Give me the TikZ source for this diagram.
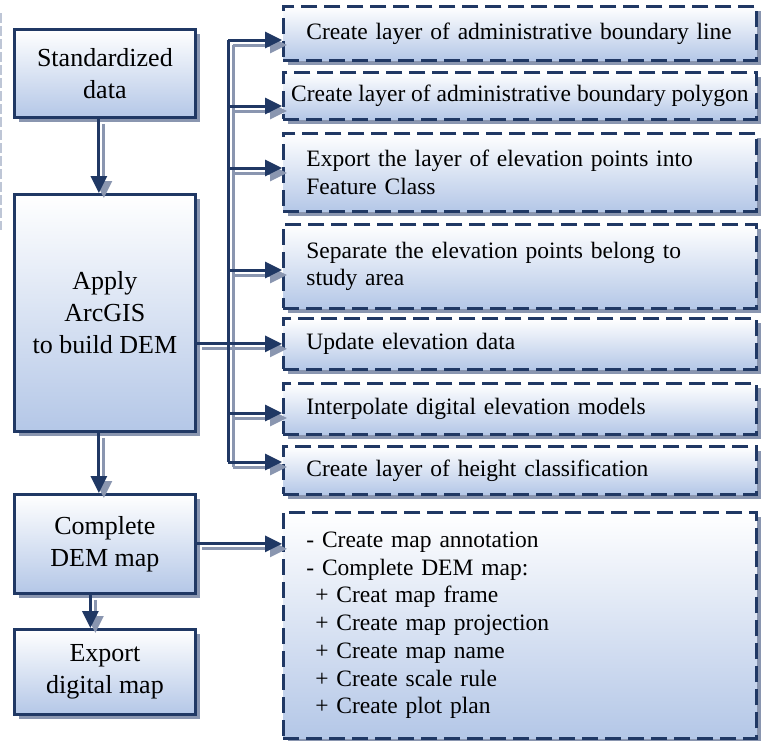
\documentclass[tikz,border=0pt]{standalone}
\usepackage{fontspec}
\setmainfont{Liberation Serif}
\usetikzlibrary{shadows,arrows.meta,calc}
\definecolor{navy}{RGB}{32,56,100}
\definecolor{boxblue}{RGB}{180,199,231}
\definecolor{shadowc}{RGB}{138,150,176}
\definecolor{faintc}{RGB}{190,198,214}
\newcommand\allcons[1]{%
  \draw[#1,-{Triangle[length=17pt,width=16pt]}] ([xshift=-6pt]sd.south) -- ([xshift=-6pt]arc.north);
  \draw[#1,-{Triangle[length=17pt,width=16pt]}] ([xshift=-6pt]arc.south) -- ([xshift=-6pt]cdm.north);
  \draw[#1,-{Triangle[length=17pt,width=16pt]}] ([xshift=-14.5pt]cdm.south) -- ([xshift=-14.5pt]ex.north);
  \draw[#1] (j1) -- (j7);
  \draw[#1,-{Triangle[length=17pt,width=16pt]}] (arc.east |- r5.west) -- (r5.west);
  \draw[#1,-{Triangle[length=17pt,width=16pt]}] (j1) -- (j1 -| r1.west);
  \draw[#1,-{Triangle[length=17pt,width=16pt]}] (j2) -- (j2 -| r2.west);
  \draw[#1,-{Triangle[length=17pt,width=16pt]}] (j3) -- (j3 -| r3.west);
  \draw[#1,-{Triangle[length=17pt,width=16pt]}] (j4) -- (j4 -| r4.west);
  \draw[#1,-{Triangle[length=17pt,width=16pt]}] (j6) -- (j6 -| r6.west);
  \draw[#1,-{Triangle[length=17pt,width=16pt]}] (j7) -- (j7 -| r7.west);
  \draw[#1,-{Triangle[length=17pt,width=16pt]}] (cdm.east) -- (cdm.east -| r8.west);
}
\begin{document}
\begin{tikzpicture}[x=1pt,y=-1pt,
  boxshadow/.style={drop shadow={shadow xshift=5pt,shadow yshift=-5pt,fill=shadowc,opacity=1}},
  lbox/.style={draw=navy,line width=2.8pt,top color=white,bottom color=boxblue,boxshadow,
    minimum width=181pt,align=center,font=\fontsize{26}{32}\selectfont,inner sep=0pt,anchor=north west},
  rbox/.style={draw=navy,line width=2.8pt,dash pattern=on 16pt off 7pt,top color=white,bottom color=boxblue,boxshadow,
    minimum width=473pt,anchor=north west,font=\fontsize{23.5}{27.7}\selectfont,inner xsep=23pt,inner ysep=0pt},
  lefttext/.style={text width=427pt,align=left},
  shad/.style={draw=shadowc,line width=3pt,transform canvas={shift={(5pt,-5pt)}}},
  con/.style={draw=navy,line width=3pt}
]
\useasboundingbox (0,0) rectangle (766,740);
\fill[white] (0,0) rectangle (766,740);
\draw[faintc,line width=1.5pt,dash pattern=on 10pt off 3pt] (1,13) -- (1,230);

% left column
\node[lbox,minimum height=88pt] (sd) at (13,28) {Standardized\\data};
\node[lbox,minimum height=237pt] (arc) at (13,193) {Apply\\ArcGIS\\to build DEM};
\node[lbox,minimum height=99pt] (cdm) at (13,493) {Complete\\DEM map};
\node[lbox,minimum height=85pt] (ex) at (13,628) {Export\\digital map};

% right column
\node[rbox,lefttext,minimum height=54pt] (r1) at (282,5) {\mbox{Create layer of administrative boundary line}};
\node[rbox,inner xsep=0pt,minimum height=47pt] (r2) at (282,71) {Create layer of administrative boundary polygon};
\node[rbox,lefttext,minimum height=78pt] (r3) at (282,132) {Export the layer of elevation points into\\Feature Class};
\node[rbox,lefttext,minimum height=84pt] (r4) at (282,223) {Separate the elevation points belong to\\study area};
\node[rbox,lefttext,minimum height=51pt] (r5) at (282,317) {Update elevation data};
\node[rbox,lefttext,minimum height=51pt] (r6) at (282,382) {Interpolate digital elevation models};
\node[rbox,lefttext,minimum height=48pt] (r7) at (282,445) {Create layer of height classification};
\node[rbox,lefttext,minimum height=226pt] (r8) at (282,511) {- Create map annotation\\
- Complete DEM map:\\
\hspace*{9pt}+ Creat map frame\\
\hspace*{9pt}+ Create map projection\\
\hspace*{9pt}+ Create map name\\
\hspace*{9pt}+ Create scale rule\\
\hspace*{9pt}+ Create plot plan\\[14pt]};

% bus junctions
\coordinate (j1) at (228,40);
\coordinate (j2) at (228,106);
\coordinate (j3) at (228,168);
\coordinate (j4) at (228,270);
\coordinate (j6) at (228,413);
\coordinate (j7) at (228,462);

\allcons{shad}
\allcons{con}
\end{tikzpicture}
\end{document}
